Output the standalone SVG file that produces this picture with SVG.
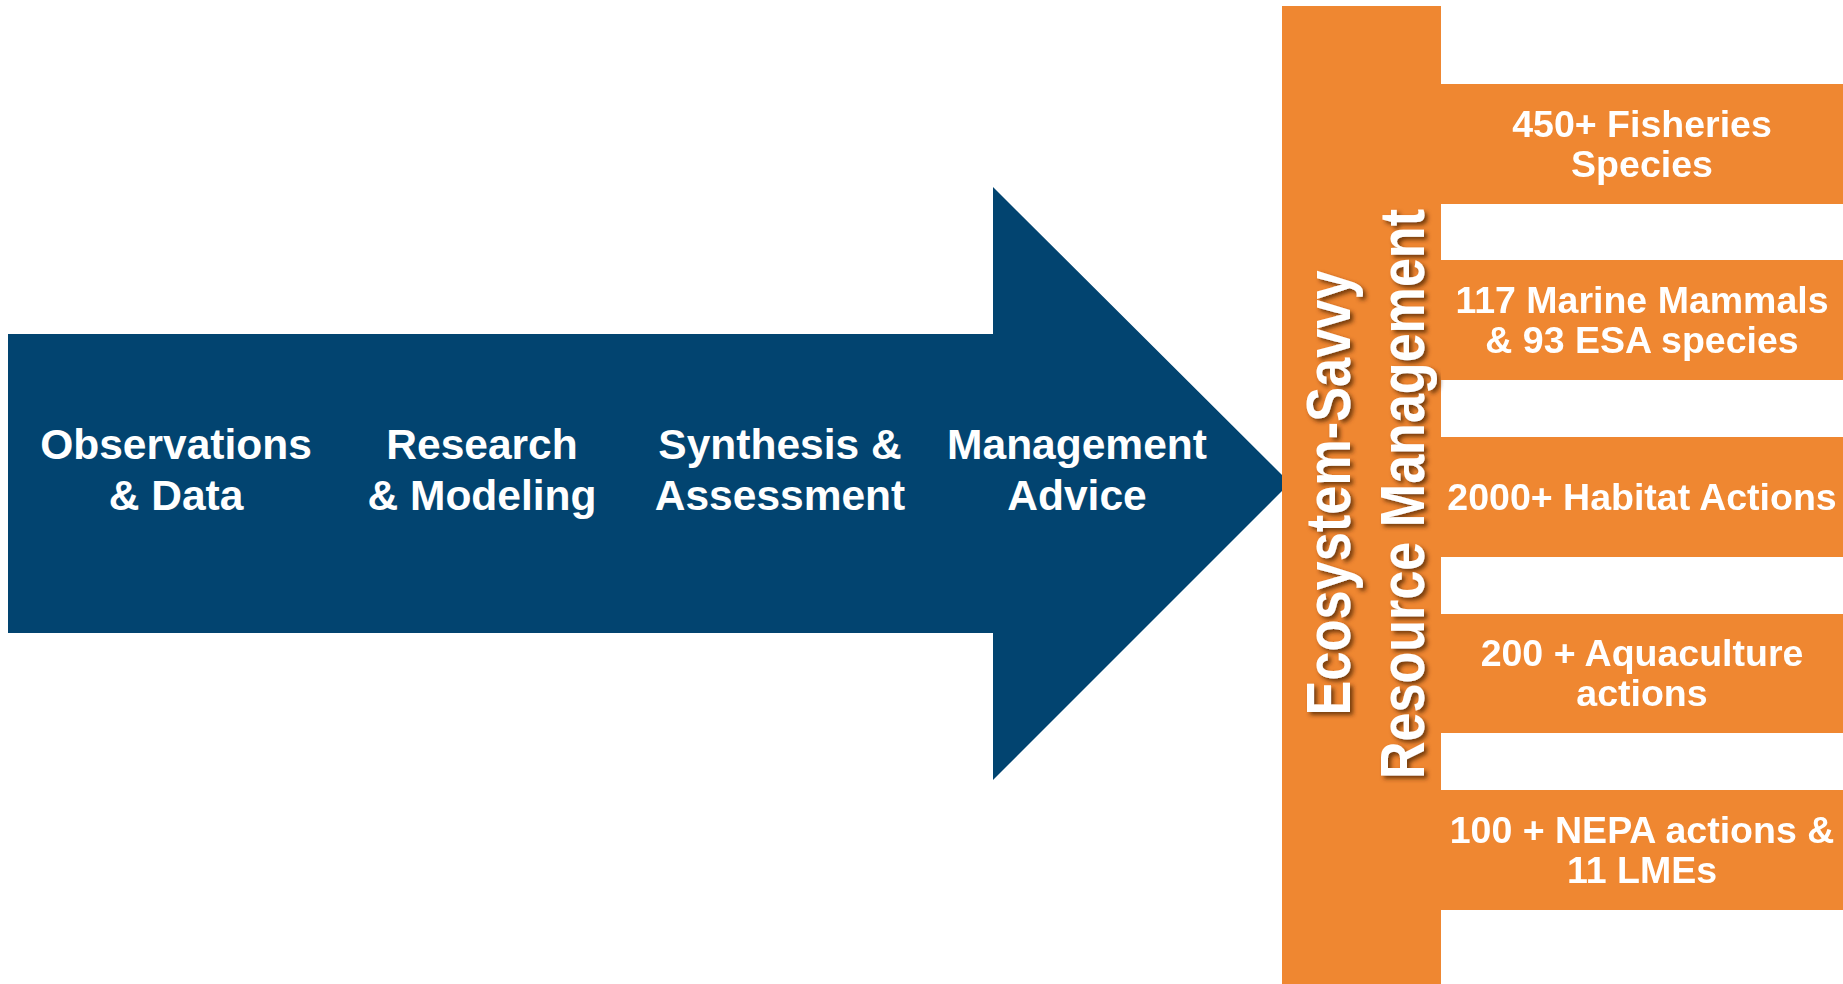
<svg xmlns="http://www.w3.org/2000/svg" width="1843" height="984" viewBox="0 0 1843 984">
  <defs>
    <style>
      .navy { fill: #024470; }
      .orange { fill: #EF8731; }
      .stage { font-family: "Liberation Sans", Arial, sans-serif; font-weight: bold; font-size: 42.5px; fill: #FFFFFF; text-anchor: middle; }
      .item { font-family: "Liberation Sans", Arial, sans-serif; font-weight: bold; font-size: 37.5px; fill: #FFFFFF; text-anchor: middle; }
      .title { font-family: "Liberation Sans", Arial, sans-serif; font-weight: bold; font-size: 63px; fill: #FFFFFF; text-anchor: middle; }
    </style>
    <filter id="shadow" x="-10%" y="-10%" width="120%" height="120%">
      <feDropShadow dx="3" dy="3" stdDeviation="2" flood-color="#4a2200" flood-opacity="0.75"/>
    </filter>
  </defs>

  <rect width="1843" height="984" fill="#FFFFFF"/>

  <!-- Process arrow with its four stages -->
  <g id="process-arrow">
    <polygon class="navy" points="8,334 993,334 993,187 1290,483 993,780 993,633 8,633"/>
    <g id="stage-observations">
      <text class="stage" x="176" y="459">Observations</text>
      <text class="stage" x="176" y="510">&amp; Data</text>
    </g>
    <g id="stage-research">
      <text class="stage" x="482" y="459">Research</text>
      <text class="stage" x="482" y="510">&amp; Modeling</text>
    </g>
    <g id="stage-synthesis">
      <text class="stage" x="780" y="459">Synthesis &amp;</text>
      <text class="stage" x="780" y="510">Assessment</text>
    </g>
    <g id="stage-advice">
      <text class="stage" x="1077" y="459">Management</text>
      <text class="stage" x="1077" y="510">Advice</text>
    </g>
  </g>

  <!-- Vertical management bar -->
  <g id="management-bar">
    <rect class="orange" x="1282" y="6" width="159" height="978"/>
    <g filter="url(#shadow)">
      <text class="title" transform="translate(1350,493) rotate(-90)" x="0" y="0" textLength="445" lengthAdjust="spacingAndGlyphs">Ecosystem-Savvy</text>
      <text class="title" transform="translate(1424,494) rotate(-90)" x="0" y="0" textLength="570" lengthAdjust="spacingAndGlyphs">Resource Management</text>
    </g>
  </g>

  <!-- Outcome boxes -->
  <g id="box-fisheries">
    <rect class="orange" x="1441" y="84" width="402" height="120"/>
    <text class="item" x="1642" y="137">450+ Fisheries</text>
    <text class="item" x="1642" y="177">Species</text>
  </g>
  <g id="box-mammals">
    <rect class="orange" x="1441" y="260" width="402" height="120"/>
    <text class="item" x="1642" y="313">117 Marine Mammals</text>
    <text class="item" x="1642" y="353">&amp; 93 ESA species</text>
  </g>
  <g id="box-habitat">
    <rect class="orange" x="1441" y="437" width="402" height="120"/>
    <text class="item" x="1642" y="510">2000+ Habitat Actions</text>
  </g>
  <g id="box-aquaculture">
    <rect class="orange" x="1441" y="614" width="402" height="119"/>
    <text class="item" x="1642" y="666">200 + Aquaculture</text>
    <text class="item" x="1642" y="706">actions</text>
  </g>
  <g id="box-nepa">
    <rect class="orange" x="1441" y="790" width="402" height="120"/>
    <text class="item" x="1642" y="843">100 + NEPA actions &amp;</text>
    <text class="item" x="1642" y="883">11 LMEs</text>
  </g>
</svg>
